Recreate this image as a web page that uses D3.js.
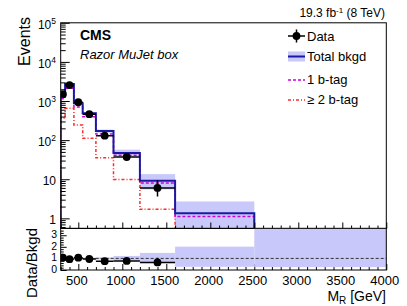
<!DOCTYPE html>
<html>
<head>
<meta charset="utf-8">
<script src="https://cdn.jsdelivr.net/npm/d3@7"></script>
<style>
  body { margin: 0; background: #fff; }
  text { font-family: "Liberation Sans", Arial, sans-serif; }
</style>
</head>
<body>
<div id="chart"></div>
<script>
// bins in M_R (GeV)
var binEdges = [300, 350, 450, 550, 700, 900, 1200, 1600, 2500, 4000];
var dataCounts = [1500, 2550, 930, 460, 130, 37, 6, 0, 0];
var dataErrUp = [40, 52, 32, 22, 12.5, 7.1, 3.6, 0, 0];
var dataErrDown = [39, 51, 31, 21, 11.4, 6.1, 2.4, 0, 0];
var totalBkgd = [1420, 2720, 875, 485, 171, 47, 9.15, 1.34, 0.12];
var bkgdLow = [1340, 2600, 815, 452, 155, 38, 5.5, 0.37, 0.03];
var bkgdHigh = [1500, 2840, 935, 518, 186, 57, 13.5, 2.7, 0.5];
var oneBtag = [1150, 2110, 700, 398, 143, 41, 8.0, 1.12, 0.1];
var twoBtag = [360, 650, 243, 111, 35.5, 9.9, 1.7, 0.3, 0.02];

var xTicks = [500, 1000, 1500, 2000, 2500, 3000, 3500, 4000];
var yTopTicks = [1, 10, 100, 1000, 10000, 100000];
var yTopLabels = [["1", ""], ["10", ""], ["10", "2"], ["10", "3"], ["10", "4"], ["10", "5"]];
var ratioTicks = [0, 1, 2, 3];

var W = 407, H = 306;
var blue = "#1a1aa0", band = "#c8c8fa", magenta = "#cc00dd", red = "#ff2a2a";

var svg = d3.select("#chart").append("svg")
    .attr("width", W).attr("height", H);

var x = d3.scaleLinear().domain([300, 4000]).range([60.7, 386.3]);
var y = d3.scaleLog().domain([0.55, 1e5]).range([228.5, 22.8]);
var yr = d3.scaleLinear().domain([0, 3.6]).range([270, 228.3]);

var bins = d3.range(dataCounts.length).map(function(i) {
  return {i: i, lo: binEdges[i], hi: binEdges[i + 1], mid: (binEdges[i] + binEdges[i + 1]) / 2};
});

svg.append("clipPath").attr("id", "clipTop").append("rect")
  .attr("x", x(300)).attr("y", y(1e5)).attr("width", x(4000) - x(300)).attr("height", y(0.55) - y(1e5));
svg.append("clipPath").attr("id", "clipRat").append("rect")
  .attr("x", x(300)).attr("y", yr(3.6)).attr("width", x(4000) - x(300)).attr("height", yr(0) - yr(3.6));

// ---------- top pad ----------
var topPad = svg.append("g").attr("clip-path", "url(#clipTop)");

topPad.selectAll("rect.band").data(bins).enter().append("rect")
  .attr("class", "band")
  .attr("x", function(d) { return x(d.lo); })
  .attr("width", function(d) { return x(d.hi) - x(d.lo); })
  .attr("y", function(d) { return y(bkgdHigh[d.i]); })
  .attr("height", function(d) { return y(bkgdLow[d.i]) - y(bkgdHigh[d.i]); })
  .attr("fill", band);

var stepPath = function(vals) {
  var bottom = y(0.55) + 20;
  var p = "M" + x(binEdges[0]) + "," + bottom;
  vals.forEach(function(v, i) {
    p += "L" + x(binEdges[i]) + "," + y(v) + "L" + x(binEdges[i + 1]) + "," + y(v);
  });
  p += "L" + x(binEdges[binEdges.length - 1]) + "," + bottom;
  return p;
};

topPad.append("path").attr("d", stepPath(twoBtag))
  .attr("fill", "none").attr("stroke", red).attr("stroke-width", 1.5)
  .attr("stroke-dasharray", "3,2,1,2");
topPad.append("path").attr("d", stepPath(oneBtag))
  .attr("fill", "none").attr("stroke", magenta).attr("stroke-width", 1.5)
  .attr("stroke-dasharray", "3,2");
topPad.append("path").attr("d", stepPath(totalBkgd))
  .attr("fill", "none").attr("stroke", blue).attr("stroke-width", 2);

var dataBins = bins.filter(function(d) { return dataCounts[d.i] > 0; });
var dg = topPad.selectAll("g.pt").data(dataBins).enter().append("g");
dg.append("line")
  .attr("x1", function(d) { return x(d.lo); }).attr("x2", function(d) { return x(d.hi); })
  .attr("y1", function(d) { return y(dataCounts[d.i]); }).attr("y2", function(d) { return y(dataCounts[d.i]); })
  .attr("stroke", "#000").attr("stroke-width", 1.5);
dg.append("line")
  .attr("x1", function(d) { return x(d.mid); }).attr("x2", function(d) { return x(d.mid); })
  .attr("y1", function(d) { return y(dataCounts[d.i] + dataErrUp[d.i]); })
  .attr("y2", function(d) { return y(dataCounts[d.i] - dataErrDown[d.i]); })
  .attr("stroke", "#000").attr("stroke-width", 1.5);
dg.append("circle")
  .attr("cx", function(d) { return x(d.mid); }).attr("cy", function(d) { return y(dataCounts[d.i]); })
  .attr("r", 3.9).attr("fill", "#000");

// frame + axes top
svg.append("rect").attr("x", x(300)).attr("y", y(1e5))
  .attr("width", x(4000) - x(300)).attr("height", y(0.55) - y(1e5))
  .attr("fill", "none").attr("stroke", "#000").attr("stroke-width", 1);

var yMinor = [];
[-1, 0, 1, 2, 3, 4].forEach(function(k) {
  for (var m = 2; m <= 9; m++) {
    var v = m * Math.pow(10, k);
    if (v >= 0.55 && v <= 1e5) yMinor.push(v);
  }
});
svg.append("g").attr("transform", "translate(" + x(300) + ",0)")
  .call(d3.axisLeft(y).tickValues(yTopTicks).tickSize(-9).tickFormat(""))
  .call(function(g) { g.select(".domain").remove(); });
svg.append("g").attr("transform", "translate(" + x(300) + ",0)")
  .call(d3.axisLeft(y).tickValues(yMinor).tickSize(-5).tickFormat(""))
  .call(function(g) { g.select(".domain").remove(); });

yTopTicks.forEach(function(v, i) {
  var t = svg.append("text").attr("x", 56).attr("y", y(v) + 6)
    .attr("text-anchor", "end").attr("font-size", 12).attr("fill", "#000");
  t.append("tspan").text(yTopLabels[i][0]);
  if (yTopLabels[i][1]) t.append("tspan").attr("dy", -5).attr("font-size", 8.5).text(yTopLabels[i][1]);
});

var xMinor = d3.range(300, 4001, 100).filter(function(v) { return v % 500 != 0; });
[y(0.55), yr(0)].forEach(function(py) {
  svg.append("g").attr("transform", "translate(0," + py + ")")
    .call(d3.axisBottom(x).tickValues(xTicks).tickSize(-6).tickFormat(""))
    .call(function(g) { g.select(".domain").remove(); });
  svg.append("g").attr("transform", "translate(0," + py + ")")
    .call(d3.axisBottom(x).tickValues(xMinor).tickSize(-3).tickFormat(""))
    .call(function(g) { g.select(".domain").remove(); });
});

// ---------- ratio pad ----------
var rat = svg.append("g").attr("clip-path", "url(#clipRat)");
rat.selectAll("rect.rband").data(bins).enter().append("rect")
  .attr("x", function(d) { return x(d.lo); })
  .attr("width", function(d) { return x(d.hi) - x(d.lo); })
  .attr("y", function(d) { return yr(bkgdHigh[d.i] / totalBkgd[d.i]); })
  .attr("height", function(d) { return yr(bkgdLow[d.i] / totalBkgd[d.i]) - yr(bkgdHigh[d.i] / totalBkgd[d.i]); })
  .attr("fill", band);
rat.append("line").attr("x1", x(300)).attr("x2", x(4000)).attr("y1", yr(1)).attr("y2", yr(1))
  .attr("stroke", "#333").attr("stroke-width", 1).attr("stroke-dasharray", "3,2");

var rg = rat.selectAll("g.rpt").data(dataBins).enter().append("g");
var ratio = function(d) { return dataCounts[d.i] / totalBkgd[d.i]; };
rg.append("line")
  .attr("x1", function(d) { return x(d.lo); }).attr("x2", function(d) { return x(d.hi); })
  .attr("y1", function(d) { return yr(ratio(d)); }).attr("y2", function(d) { return yr(ratio(d)); })
  .attr("stroke", "#000").attr("stroke-width", 1.5);
rg.append("line")
  .attr("x1", function(d) { return x(d.mid); }).attr("x2", function(d) { return x(d.mid); })
  .attr("y1", function(d) { return yr((dataCounts[d.i] + dataErrUp[d.i]) / totalBkgd[d.i]); })
  .attr("y2", function(d) { return yr((dataCounts[d.i] - dataErrDown[d.i]) / totalBkgd[d.i]); })
  .attr("stroke", "#000").attr("stroke-width", 1.5);
rg.append("circle")
  .attr("cx", function(d) { return x(d.mid); }).attr("cy", function(d) { return yr(ratio(d)); })
  .attr("r", 3.9).attr("fill", "#000");

svg.append("rect").attr("x", x(300)).attr("y", yr(3.6))
  .attr("width", x(4000) - x(300)).attr("height", yr(0) - yr(3.6))
  .attr("fill", "none").attr("stroke", "#000").attr("stroke-width", 1);

svg.append("g").attr("transform", "translate(" + x(300) + ",0)")
  .call(d3.axisLeft(yr).tickValues(ratioTicks).tickSize(-6).tickFormat(""))
  .call(function(g) { g.select(".domain").remove(); });
svg.append("g").attr("transform", "translate(" + x(300) + ",0)")
  .call(d3.axisLeft(yr).tickValues(d3.range(0.2, 3.6, 0.2).filter(function(v) { return Math.abs(v - Math.round(v)) > 0.01; })).tickSize(-3).tickFormat(""))
  .call(function(g) { g.select(".domain").remove(); });
ratioTicks.forEach(function(v) {
  svg.append("text").attr("x", 57).attr("y", yr(v) + 3)
    .attr("text-anchor", "end").attr("font-size", 10.5).text(v);
});

xTicks.forEach(function(v) {
  svg.append("text").attr("x", x(v) - 1.5).attr("y", 285)
    .attr("text-anchor", "middle").attr("font-size", 13).text(v);
});

// ---------- titles ----------
var xt = svg.append("text").attr("x", 386).attr("y", 300.5).attr("text-anchor", "end").attr("font-size", 14);
xt.append("tspan").text("M");
xt.append("tspan").attr("dy", 3).attr("font-size", 10).text("R");
xt.append("tspan").attr("dy", -3).text(" [GeV]");

svg.append("text").attr("transform", "translate(30,17) rotate(-90)")
  .attr("text-anchor", "end").attr("font-size", 16).text("Events");
svg.append("text").attr("transform", "translate(37,228) rotate(-90)")
  .attr("text-anchor", "end").attr("font-size", 15).text("Data/Bkgd");

var lt = svg.append("text").attr("x", 385).attr("y", 17).attr("text-anchor", "end").attr("font-size", 12);
lt.append("tspan").text("19.3 fb");
lt.append("tspan").attr("dy", -4).attr("font-size", 8).text("-1");
lt.append("tspan").attr("dy", 4).text(" (8 TeV)");

svg.append("text").attr("x", 80).attr("y", 40).attr("font-size", 14).attr("font-weight", "bold").text("CMS");
svg.append("text").attr("x", 80).attr("y", 58.5).attr("font-size", 13).attr("font-style", "italic").text("Razor MuJet box");

// ---------- legend ----------
var leg = svg.append("g");
leg.append("line").attr("x1", 288).attr("x2", 305).attr("y1", 36).attr("y2", 36).attr("stroke", "#000").attr("stroke-width", 1.5);
leg.append("line").attr("x1", 296.5).attr("x2", 296.5).attr("y1", 29.5).attr("y2", 42.5).attr("stroke", "#000").attr("stroke-width", 1.5);
leg.append("circle").attr("cx", 296.5).attr("cy", 36).attr("r", 3.9).attr("fill", "#000");
leg.append("rect").attr("x", 288).attr("y", 51.5).attr("width", 17).attr("height", 10).attr("fill", band);
leg.append("line").attr("x1", 288).attr("x2", 305).attr("y1", 56.5).attr("y2", 56.5).attr("stroke", blue).attr("stroke-width", 2);
leg.append("line").attr("x1", 288).attr("x2", 305).attr("y1", 80).attr("y2", 80).attr("stroke", magenta).attr("stroke-width", 1.5).attr("stroke-dasharray", "3,2");
leg.append("line").attr("x1", 288).attr("x2", 305).attr("y1", 100).attr("y2", 100).attr("stroke", red).attr("stroke-width", 1.5).attr("stroke-dasharray", "3,2,1,2");
var legText = ["Data", "Total bkgd", "1 b-tag", "\u2265 2 b-tag"];
var legY = [40.5, 61, 84, 104];
legText.forEach(function(t, i) {
  leg.append("text").attr("x", 307).attr("y", legY[i]).attr("font-size", 13).text(t);
});
</script>
</body>
</html>
